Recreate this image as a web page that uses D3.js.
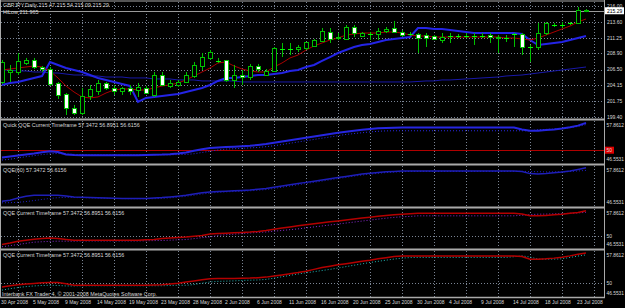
<!DOCTYPE html>
<html>
<head>
<meta charset="utf-8">
<script src="https://cdn.jsdelivr.net/npm/d3@7"></script>
<style>
body { margin: 0; background: #000; }
svg { display: block; }
text { font-family: "Liberation Sans", Arial, sans-serif; }
</style>
</head>
<body>
<svg id="chart" width="625" height="308"></svg>
<script>
// ==============================
// data, one value per daily bar
// ==============================
var dateLabels = ["30 Apr 2008", "5 May 2008", "9 May 2008", "14 May 2008", "19 May 2008", "23 May 2008",
	"28 May 2008", "2 Jun 2008", "6 Jun 2008", "11 Jun 2008", "16 Jun 2008", "20 Jun 2008", "25 Jun 2008",
	"30 Jun 2008", "4 Jul 2008", "9 Jul 2008", "14 Jul 2008", "18 Jul 2008", "23 Jul 2008"];

var open = [204.64, 206.13, 206.13, 207.48, 207.93, 206.88, 206.58, 204.49, 202.84, 200.75, 200.00, 202.55, 203.29, 204.49, 203.74,
	203.29, 203.74, 203.44, 203.74, 202.70, 205.68, 204.04, 204.19, 204.64, 205.53, 207.03, 208.23, 207.80, 207.93, 204.94,
	205.68, 205.38, 207.03, 205.68, 206.28, 209.57, 209.57, 209.57, 209.72, 210.02, 210.77, 212.11, 211.21, 211.07, 212.86,
	211.51, 211.81, 211.81, 212.26, 212.71, 212.11, 211.81, 211.81, 211.66, 211.51, 210.92, 211.51, 211.51, 211.51, 211.51,
	211.51, 211.66, 211.36, 211.21, 211.81, 211.81, 209.87, 209.87, 211.96, 213.16, 213.16, 213.46, 213.46, 215.47];
var high = [207.93, 207.18, 208.97, 208.23, 208.23, 207.03, 206.88, 204.64, 202.99, 201.20, 203.74, 204.19, 204.94, 204.64, 204.19,
	203.89, 204.19, 204.49, 204.04, 206.13, 206.13, 204.94, 204.94, 206.13, 207.63, 208.97, 209.42, 208.23, 207.93, 207.18,
	206.43, 207.33, 207.33, 206.58, 209.87, 210.47, 210.47, 210.17, 210.62, 211.07, 212.71, 212.71, 211.96, 213.16, 213.16,
	212.11, 212.11, 212.71, 212.86, 213.76, 212.41, 212.11, 211.96, 211.96, 211.66, 211.96, 211.96, 211.81, 211.96, 211.96,
	211.96, 211.96, 211.66, 211.66, 211.96, 211.96, 210.17, 213.46, 213.61, 213.46, 213.61, 213.61, 215.85, 215.54];
var low = [204.34, 204.64, 205.68, 207.18, 206.58, 206.13, 204.04, 202.10, 199.70, 199.70, 199.70, 201.95, 202.70, 203.44, 202.70,
	202.70, 202.70, 202.40, 202.84, 202.40, 204.04, 203.74, 203.89, 204.49, 205.24, 206.43, 207.93, 207.48, 204.64, 203.74,
	204.19, 204.94, 206.13, 205.53, 206.13, 208.37, 208.67, 209.12, 209.42, 209.87, 210.62, 210.47, 210.92, 210.92, 211.36,
	211.36, 210.92, 210.92, 211.96, 211.96, 211.36, 211.51, 208.97, 209.87, 210.92, 210.47, 210.47, 211.21, 211.21, 210.17,
	211.21, 210.47, 208.97, 210.62, 209.87, 208.67, 207.63, 209.42, 211.66, 212.86, 212.71, 213.16, 213.31, 215.09];
var close = [207.63, 206.43, 207.78, 207.93, 206.88, 206.58, 204.34, 202.70, 200.75, 200.00, 202.55, 203.59, 204.49, 203.74, 203.29,
	203.74, 203.29, 203.89, 202.99, 205.68, 204.19, 204.49, 204.64, 205.68, 207.18, 208.37, 209.12, 207.75, 204.94, 205.68,
	205.38, 207.03, 206.58, 206.28, 209.72, 209.60, 209.60, 209.87, 210.62, 210.92, 212.26, 211.07, 211.36, 212.86, 211.96,
	211.96, 211.83, 212.26, 212.56, 212.11, 211.66, 211.83, 211.21, 211.21, 211.07, 211.36, 211.53, 211.53, 211.53, 211.53,
	211.53, 211.36, 211.21, 211.23, 211.83, 209.87, 209.89, 211.96, 213.46, 213.18, 213.18, 213.48, 215.45, 215.29];

// red moving average
var maFast = [206.43, 206.58, 206.73, 206.88, 207.03, 206.88, 206.28, 205.24, 204.04, 203.14, 202.40, 202.25, 202.40, 202.99, 203.44,
	203.59, 203.59, 203.44, 203.44, 203.74, 204.04, 204.19, 204.49, 204.94, 205.53, 206.13, 206.73, 207.48, 207.63, 207.03,
	206.58, 206.28, 206.13, 206.13, 206.88, 207.48, 208.23, 208.67, 209.42, 210.02, 210.47, 210.92, 211.21, 211.66, 211.81,
	211.96, 211.96, 211.96, 212.11, 212.11, 211.96, 211.66, 211.51, 211.51, 211.36, 211.36, 211.36, 211.36, 211.36, 211.36,
	211.36, 211.36, 211.36, 211.21, 211.21, 211.07, 210.92, 211.21, 211.66, 212.11, 212.56, 213.01, 213.61, 214.06];
// thick blue HiLow line
var hiLow = [204.19, 204.49, 204.64, 204.94, 205.24, 205.53, 207.63, 207.18, 206.73, 206.43, 206.13, 205.68, 205.24, 204.94, 204.64,
	204.34, 204.04, 201.65, 202.25, 202.40, 202.55, 202.70, 202.84, 203.14, 203.44, 203.74, 204.19, 204.79, 205.24, 205.24,
	205.38, 205.53, 205.68, 205.68, 205.83, 205.98, 206.28, 206.43, 206.88, 207.18, 207.78, 208.37, 208.97, 209.42, 209.87,
	210.17, 210.32, 210.62, 210.92, 211.07, 211.21, 211.36, 212.71, 212.71, 212.56, 212.56, 212.41, 212.26, 212.11, 211.96,
	211.96, 211.96, 211.96, 211.96, 211.96, 211.81, 210.92, 210.17, 210.32, 210.47, 210.62, 210.92, 211.21, 211.51];
// thin navy slow average
var maSlow = [206.43, 206.43, 206.28, 206.28, 206.13, 206.13, 205.98, 205.98, 205.83, 205.68, 205.68, 205.53, 205.53, 205.38, 205.38,
	205.38, 205.24, 205.24, 205.24, 205.09, 205.09, 205.09, 204.94, 204.94, 204.94, 204.79, 204.79, 204.79, 204.79, 204.79,
	204.64, 204.64, 204.64, 204.64, 204.64, 204.64, 204.64, 204.64, 204.64, 204.64, 204.64, 204.64, 204.64, 204.64, 204.64,
	204.64, 204.64, 204.64, 204.64, 204.64, 204.64, 204.64, 204.71, 204.79, 204.79, 204.94, 204.94, 205.01, 205.09, 205.16,
	205.24, 205.31, 205.38, 205.53, 205.61, 205.68, 205.83, 205.98, 206.13, 206.28, 206.43, 206.58, 206.73, 206.88];

var priceTicks = [216.00, 213.60, 211.25, 208.90, 206.50, 204.15, 201.75, 199.40];
var bidPrice = 215.29;

// QQE windows
var quickRsi = [48.02, 48.31, 48.59, 48.87, 49.11, 49.44, 49.71, 49.53, 48.87, 48.70, 48.66, 48.66, 48.66, 48.66, 48.66,
	48.66, 48.66, 48.66, 48.70, 48.76, 48.82, 48.93, 49.10, 49.37, 49.83, 50.23, 50.58, 50.74, 50.85, 50.96,
	51.08, 51.19, 51.42, 51.64, 51.98, 52.32, 52.66, 53.00, 53.34, 53.68, 54.02, 54.36, 54.70, 54.98, 55.26,
	55.49, 55.71, 55.88, 56.00, 56.05, 56.10, 56.10, 56.10, 56.10, 56.10, 56.10, 56.10, 56.10, 56.10, 56.10,
	56.10, 56.10, 56.10, 56.10, 56.10, 55.60, 55.23, 55.26, 55.43, 55.60, 55.83, 56.17, 56.62, 57.35];
var quickTrail = [47.35, 47.57, 47.91, 48.25, 48.53, 48.82, 49.04, 49.11, 48.98, 48.87, 48.82, 48.76, 48.76, 48.76, 48.76,
	48.76, 48.76, 48.76, 48.76, 48.76, 48.76, 48.76, 48.82, 48.87, 49.04, 49.38, 49.72, 50.06, 50.29, 50.40,
	50.51, 50.62, 50.74, 50.96, 51.19, 51.53, 51.87, 52.21, 52.55, 52.89, 53.23, 53.56, 53.90, 54.24, 54.47,
	54.70, 54.92, 55.09, 55.20, 55.23, 55.23, 55.23, 55.23, 55.23, 55.23, 55.23, 55.23, 55.23, 55.23, 55.23,
	55.23, 55.23, 55.23, 55.23, 55.23, 55.23, 55.23, 55.49, 55.60, 55.68, 55.83, 56.10, 56.39, 56.90];
var qqe60 = [47.91, 48.20, 48.82, 49.32, 49.58, 49.58, 49.58, 49.58, 49.38, 49.12, 49.04, 48.93, 48.87, 48.82, 48.76,
	48.70, 48.68, 48.68, 48.70, 48.82, 48.93, 49.10, 49.32, 49.58, 49.95, 50.29, 50.50, 50.62, 50.74, 50.85,
	50.96, 51.08, 51.30, 51.53, 51.87, 52.21, 52.55, 52.89, 53.23, 53.56, 53.90, 54.24, 54.58, 54.92, 55.26,
	55.60, 55.83, 56.05, 56.22, 56.33, 56.45, 56.48, 56.48, 56.48, 56.48, 56.48, 56.48, 56.48, 56.48, 56.48,
	56.48, 56.48, 56.48, 56.48, 56.48, 56.28, 55.71, 55.58, 55.71, 55.94, 56.17, 56.48, 56.90, 57.35];
var qqe60Trail = [47.45, 47.50, 47.60, 47.80, 48.10, 48.40, 48.70, 48.90, 49.00, 48.95, 48.90, 48.85, 48.80, 48.75, 48.70,
	48.65, 48.60, 48.60, 48.60, 48.62, 48.70, 48.85, 49.05, 49.30, 49.60, 49.95, 50.20, 50.40, 50.55, 50.65,
	50.75, 50.85, 51.00, 51.20, 51.50, 51.85, 52.20, 52.55, 52.90, 53.25, 53.60, 53.95, 54.30, 54.65, 55.00,
	55.30, 55.55, 55.80, 56.00, 56.15, 56.25, 56.35, 56.35, 56.35, 56.35, 56.35, 56.35, 56.35, 56.35, 56.35,
	56.35, 56.35, 56.35, 56.35, 56.35, 56.35, 56.30, 56.25, 56.20, 56.20, 56.20, 56.30, 56.45, 56.62];
var qqeA = [47.60, 48.02, 48.53, 48.82, 49.10, 49.32, 49.47, 49.30, 49.04, 48.82, 48.82, 48.82, 48.82, 48.82, 48.82,
	48.82, 48.82, 48.82, 48.93, 49.04, 49.30, 49.44, 49.61, 49.75, 49.95, 50.17, 50.62, 50.74, 50.85, 50.96,
	51.08, 51.19, 51.36, 51.64, 51.98, 52.32, 52.66, 53.00, 53.28, 53.56, 53.85, 54.13, 54.41, 54.70, 54.98,
	55.26, 55.49, 55.77, 56.00, 56.22, 56.37, 56.50, 56.65, 56.65, 56.65, 56.65, 56.65, 56.65, 56.65, 56.65,
	56.65, 56.65, 56.65, 56.65, 56.65, 56.39, 55.88, 55.88, 56.00, 56.17, 56.36, 56.62, 56.82, 57.35];
var qqeATrail = [46.92, 47.23, 47.57, 47.91, 48.25, 48.36, 48.48, 48.53, 48.53, 48.53, 48.59, 48.59, 48.59, 48.59, 48.59,
	48.59, 48.59, 48.59, 48.65, 48.70, 48.73, 48.82, 48.93, 49.01, 49.27, 49.55, 49.75, 50.23, 50.40, 50.57,
	50.74, 50.91, 51.08, 51.19, 51.42, 51.64, 51.87, 52.09, 52.38, 52.66, 52.94, 53.23, 53.51, 53.79, 54.07,
	54.36, 54.64, 54.92, 55.20, 55.43, 55.60, 55.71, 55.88, 55.88, 55.88, 55.88, 55.88, 55.88, 55.88, 55.88,
	55.88, 55.88, 55.88, 55.88, 55.88, 56.05, 56.22, 56.36, 56.39, 56.45, 56.50, 56.62, 56.73, 56.90];
var qqeB = [49.04, 49.32, 49.55, 49.72, 49.89, 50.06, 50.09, 50.09, 49.83, 49.44, 49.44, 49.44, 49.44, 49.44, 49.44,
	49.44, 49.44, 49.44, 49.47, 49.52, 49.56, 49.72, 49.95, 50.23, 50.51, 50.79, 51.05, 51.13, 51.13, 51.13,
	51.17, 51.20, 51.30, 51.44, 51.70, 51.98, 52.26, 52.55, 52.89, 53.34, 53.79, 54.13, 54.47, 54.75, 55.03,
	55.32, 55.60, 55.94, 56.22, 56.50, 56.66, 56.66, 56.66, 56.66, 56.66, 56.66, 56.66, 56.66, 56.66, 56.66,
	56.66, 56.66, 56.66, 56.66, 56.66, 56.50, 55.86, 55.86, 55.94, 56.11, 56.33, 56.66, 57.07, 57.35];
var qqeBTrail = [48.24, 48.59, 48.88, 49.10, 49.27, 49.38, 49.44, 49.38, 49.27, 49.27, 49.32, 49.32, 49.32, 49.32, 49.32,
	49.32, 49.32, 49.32, 49.32, 49.32, 49.32, 49.38, 49.44, 49.44, 49.61, 49.95, 50.24, 50.40, 50.45, 50.51,
	50.62, 50.68, 50.74, 50.88, 51.19, 51.53, 51.87, 52.21, 52.49, 52.77, 53.06, 53.34, 53.68, 54.02, 54.36,
	54.70, 55.03, 55.32, 55.60, 55.88, 56.11, 56.24, 56.28, 56.28, 56.28, 56.28, 56.28, 56.28, 56.28, 56.28,
	56.28, 56.28, 56.28, 56.28, 56.45, 56.66, 56.39, 55.86, 55.86, 55.86, 55.94, 56.28, 56.62, 56.90];

var qqeMin = 46.5531, qqeMax = 57.8612;

// ==============================
// layout
// ==============================
var W = 625, H = 308,
	left = 1, right = 604,
	fs = 5,        // scale and date labels
	fsTitle = 5.4; // window titles

var svg = d3.select("#chart");
svg.append("rect").attr("width", W).attr("height", H).attr("fill", "#000");

var x = d3.scaleLinear().domain([0, open.length - 1]).range([2, 586]);
var y = d3.scaleLinear().domain([199.25, 216.75]).range([118, 1]);

var subs = [
	{ top: 121, bottom: 163, title: "Quick QQE Current Timeframe 57.3472 56.8951 56.6156", level: "red",
		lines: [{ d: quickTrail, c: "#2a2ae8", w: 1, dash: "1,2" }, { d: quickRsi, c: "#2626e0", w: 2 }] },
	{ top: 166, bottom: 206, title: "QQE(60) 57.3472 56.6156", level: null,
		lines: [{ d: qqe60Trail, c: "#2020c0", w: 1, dash: "1,2" }, { d: qqe60, c: "#1e1eb8", w: 1.5 }] },
	{ top: 209, bottom: 248, title: "QQE Current Timeframe 57.3472 56.8951 56.6156", level: "dots",
		lines: [{ d: qqeATrail, c: "#8a2ad0", w: 1, dash: "1,2" }, { d: qqeA, c: "#b40000", w: 1.5 }] },
	{ top: 251, bottom: 297, title: "QQE Current Timeframe 57.3472 56.8951 56.6156", level: "dots",
		lines: [{ d: qqeBTrail, c: "#20b4b4", w: 1, dash: "1,2" }, { d: qqeB, c: "#b40000", w: 1.5 }] }
];

var gridColor = "#7a8494", frameColor = "#a9a9a9", textColor = "#d8d8d8";

function vGrid(top, bottom) {
	for (var j = 0; j < dateLabels.length; j++) {
		var gx = Math.round(x(j * 4 + 2)) + 0.5;
		svg.append("line").attr("x1", gx).attr("x2", gx).attr("y1", top).attr("y2", bottom)
			.attr("stroke", gridColor).attr("stroke-dasharray", "1,2");
	}
}

function clip(id, top, bottom) {
	svg.append("clipPath").attr("id", id).append("rect")
		.attr("x", left).attr("y", top).attr("width", right - left).attr("height", bottom - top);
	return "url(#" + id + ")";
}

// =================================================
// main window
// =================================================
vGrid(2, 118);
priceTicks.forEach(function(p) {
	var gy = Math.round(y(p)) + 0.5;
	svg.append("line").attr("x1", left).attr("x2", right).attr("y1", gy).attr("y2", gy)
		.attr("stroke", gridColor).attr("stroke-dasharray", "1,2");
});
// bid line
svg.append("line").attr("x1", left).attr("x2", right)
	.attr("y1", Math.round(y(bidPrice)) + 0.5).attr("y2", Math.round(y(bidPrice)) + 0.5)
	.attr("stroke", "#9a9a9a");

var main = svg.append("g").attr("clip-path", clip("clipMain", 2, 118));

function priceLine(arr, color, w) {
	main.append("path").datum(arr)
		.attr("fill", "none").attr("stroke", color).attr("stroke-width", w)
		.attr("d", d3.line().x(function(d, i) { return x(i); }).y(function(d) { return y(d); }));
}
priceLine(maSlow, "#1818a8", 1);
priceLine(hiLow, "#2424e6", 2);
priceLine(maFast, "#a80000", 1);

// candles
var bars = main.selectAll("g.bar").data(open).enter().append("g");
bars.append("line")
	.attr("x1", function(d, i) { return Math.round(x(i)) + 0.5; })
	.attr("x2", function(d, i) { return Math.round(x(i)) + 0.5; })
	.attr("y1", function(d, i) { return y(high[i]); })
	.attr("y2", function(d, i) { return y(low[i]); })
	.attr("stroke", "#00c000");
bars.each(function(d, i) {
	var g = d3.select(this),
		o = open[i], c = close[i],
		cx = Math.round(x(i));
	if (Math.abs(o - c) < 0.06) {
		g.append("line").attr("x1", cx - 2).attr("x2", cx + 3)
			.attr("y1", Math.round(y(c)) + 0.5).attr("y2", Math.round(y(c)) + 0.5)
			.attr("stroke", "#00ff00");
	} else {
		var t = Math.round(y(Math.max(o, c))), b = Math.round(y(Math.min(o, c)));
		g.append("rect").attr("x", cx - 2 + 0.5).attr("y", t + 0.5)
			.attr("width", 4).attr("height", Math.max(1, b - t))
			.attr("fill", c < o ? "#ffffff" : "#000000")
			.attr("stroke", "#00c000");
	}
});

// =================================================
// indicator windows
// =================================================
subs.forEach(function(s, n) {
	s.y = d3.scaleLinear().domain([qqeMin, qqeMax]).range([s.bottom, s.top]);
	vGrid(s.top, s.bottom);
	if (s.level === "dots") {
		var ly = Math.round(s.y(50)) + 0.5;
		svg.append("line").attr("x1", left).attr("x2", right).attr("y1", ly).attr("y2", ly)
			.attr("stroke", gridColor).attr("stroke-dasharray", "1,2");
	}
	var g = svg.append("g").attr("clip-path", clip("clipSub" + n, s.top, s.bottom));
	if (s.level === "red") {
		var ry = Math.round(s.y(50)) + 0.5;
		g.append("line").attr("x1", left).attr("x2", right).attr("y1", ry).attr("y2", ry)
			.attr("stroke", "#b00000");
	}
	s.lines.forEach(function(l) {
		g.append("path").datum(l.d)
			.attr("fill", "none").attr("stroke", l.c).attr("stroke-width", l.w)
			.attr("stroke-dasharray", l.dash || null)
			.attr("d", d3.line().x(function(d, i) { return x(i); }).y(function(d) { return s.y(d); }));
	});
	svg.append("text").attr("x", 3).attr("y", s.top + 6)
		.attr("font-size", fsTitle).attr("fill", textColor).text(s.title);

	// right scale
	var labels = [[qqeMax, s.top + 4], [qqeMin, s.bottom - 4]];
	if (s.level) labels.push([50, s.y(50)]);
	labels.forEach(function(l) {
		var isRed = s.level === "red" && l[0] === 50;
		if (isRed) {
			svg.append("rect").attr("x", 605).attr("y", l[1] - 3.5).attr("width", 9).attr("height", 7)
				.attr("fill", "#e00000");
		}
		svg.append("text").attr("x", 606.5).attr("y", l[1] + 1.8)
			.attr("font-size", fs).attr("fill", textColor)
			.attr("textLength", l[0] === 50 ? null : 17.5).attr("lengthAdjust", "spacingAndGlyphs")
			.text(l[0] === 50 ? "50" : d3.format(".4f")(l[0]));
	});
});

// price scale
priceTicks.forEach(function(p) {
	svg.append("text").attr("x", 607).attr("y", y(p) + 1.8)
		.attr("font-size", fs).attr("fill", textColor).text(d3.format(".2f")(p));
});
svg.append("rect").attr("x", 605).attr("y", y(bidPrice) - 3.5).attr("width", 19).attr("height", 7)
	.attr("fill", "#ffffff");
svg.append("text").attr("x", 607).attr("y", y(bidPrice) + 1.8)
	.attr("font-size", fs).attr("fill", "#000").text(d3.format(".2f")(bidPrice));

// frames and separators
[[1, 1], [119.5, 2], [164.5, 2], [207.5, 2], [249.5, 2], [297.5, 1.5]].forEach(function(s) {
	svg.append("line").attr("x1", 0).attr("x2", right + 1).attr("y1", s[0]).attr("y2", s[0])
		.attr("stroke", frameColor).attr("stroke-width", s[1]);
});
svg.append("line").attr("x1", 0.5).attr("x2", 0.5).attr("y1", 0).attr("y2", 298)
	.attr("stroke", frameColor);
svg.append("line").attr("x1", right + 0.5).attr("x2", right + 0.5).attr("y1", 0).attr("y2", 298)
	.attr("stroke", frameColor);

// texts
svg.append("text").attr("x", 3).attr("y", 7).attr("font-size", fsTitle).attr("fill", textColor)
	.text("GBPJPY,Daily  215.47 215.54 215.09 215.29");
svg.append("text").attr("x", 3).attr("y", 13.5).attr("font-size", fsTitle).attr("fill", textColor)
	.text("HiLow 211.965");
svg.append("text").attr("x", 2).attr("y", 295.5).attr("font-size", fsTitle).attr("fill", textColor)
	.text("Interbank FX Trader 4, \u00a9 2001-2008 MetaQuotes Software Corp.");

dateLabels.forEach(function(lbl, j) {
	svg.append("text").attr("x", x(j * 4) - 1).attr("y", 304)
		.attr("font-size", fs).attr("fill", textColor).text(lbl);
});
</script>
</body>
</html>
